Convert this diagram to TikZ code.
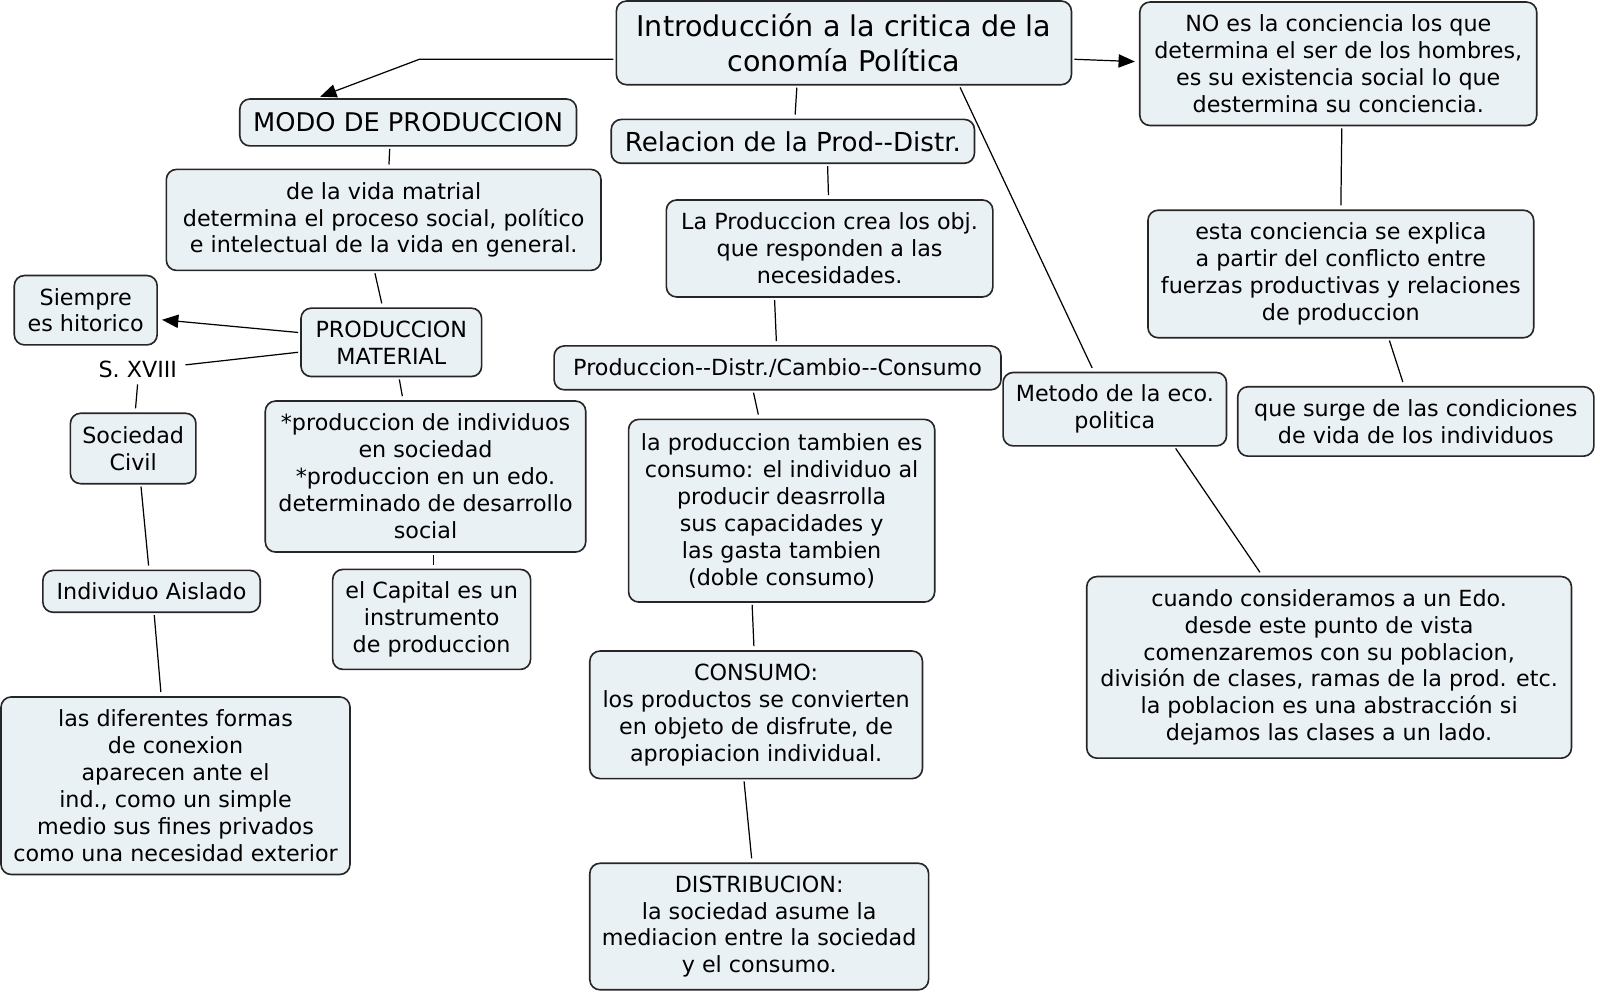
\documentclass[tikz,border=0pt]{standalone}
\usepackage{fontspec}
\setmainfont{DejaVu Sans}
\usepackage{tikz}
\usetikzlibrary{arrows.meta, positioning, calc}
\definecolor{conceptFill}{HTML}{EAF1F5}
\definecolor{conceptLine}{HTML}{262626}
\newcommand{\dblhyph}{-\kern0pt-}
\tikzset{
  concept/.style={draw=conceptLine, fill=conceptFill, line width=0.8pt, rounded corners=5pt, align=center, inner sep=2pt, font=\fontsize{10.9}{13.2}\selectfont},
  bigconcept/.style={concept, font=\fontsize{14}{17}\selectfont},
  link/.style={draw=black, line width=0.6pt, shorten <=1pt, shorten >=2pt},
  linkarrow/.style={link, -{Triangle[length=8pt,width=6.5pt]}}
}

\begin{document}
\begin{tikzpicture}[x=0.5pt, y=-0.5pt]
    \useasboundingbox (0,0) rectangle (1568,976);

    % Title and right branch
    \node[bigconcept, minimum width=223pt, minimum height=41pt] (title) at (827,42) {Introducción a la critica de la\\conomía Política};
    \node[concept, minimum width=194.5pt, minimum height=60.5pt] (noes) at (1311.5,62.5) {NO es la conciencia los que\\determina el ser de los hombres,\\es su existencia social lo que\\destermina su conciencia.};
    \node[concept, minimum width=189pt, minimum height=62.5pt] (esta) at (1314,268.5) {esta conciencia se explica\\a partir del conflicto entre\\fuerzas productivas y relaciones\\de produccion};
    \node[concept, minimum width=174.5pt, minimum height=34pt] (surge) at (1387.5,413) {que surge de las condiciones\\de vida de los individuos};
    \node[concept, minimum width=109.5pt, minimum height=36pt] (metodo) at (1092.5,401) {Metodo de la eco.\\politica};
    \node[concept, minimum width=237.5pt, minimum height=89pt] (cuando) at (1302.5,654) {cuando consideramos a un Edo.\\desde este punto de vista\\comenzaremos con su poblacion,\\división de clases, ramas de la prod. etc.\\la poblacion es una abstracción si\\dejamos las clases a un lado.};

    % Left branch
    \node[bigconcept, font=\fontsize{12.6}{15}\selectfont, minimum width=165pt, minimum height=23pt] (modo) at (400,120) {MODO DE PRODUCCION};
    \node[concept, minimum width=213pt, minimum height=49.5pt] (vida) at (376,215.5) {de la vida matrial\\determina el proceso social, político\\e intelectual de la vida en general.};
    \node[concept, minimum width=70pt, minimum height=34pt] (siempre) at (84,304) {Siempre\\es hitorico};
    \node[concept, minimum width=88.5pt, minimum height=33.5pt] (prodmat) at (383.5,335.5) {PRODUCCION\\MATERIAL};
    \node[font=\fontsize{10.9}{13.2}\selectfont, inner sep=2pt] (sxviii) at (135,362) {S. XVIII};
    \node[concept, minimum width=61.5pt, minimum height=34.5pt] (civil) at (130.5,439.5) {Sociedad\\Civil};
    \node[concept, minimum width=106.5pt, minimum height=20.5pt] (aislado) at (148.5,579.5) {Individuo Aislado};
    \node[concept, minimum width=171pt, minimum height=87pt] (formas) at (172,770) {las diferentes formas\\de conexion\\aparecen ante el\\ind., como un simple\\medio sus fines privados\\como una necesidad exterior};
    \node[concept, minimum width=157pt, minimum height=74pt] (indiv) at (417,467) {*produccion de individuos\\en sociedad\\*produccion en un edo.\\determinado de desarrollo\\social};
    \node[concept, minimum width=97pt, minimum height=49pt] (capital) at (423,607) {el Capital es un\\instrumento\\de produccion};

    % Middle branch
    \node[bigconcept, font=\fontsize{12.8}{15}\selectfont, minimum width=178pt, minimum height=21.5pt] (relacion) at (777,138.5) {Relacion de la Prod\dblhyph Distr.};
    \node[concept, minimum width=160pt, minimum height=47.5pt] (crea) at (813,243.5) {La Produccion crea los obj.\\que responden a las\\necesidades.};
    \node[concept, minimum width=219pt, minimum height=21.5pt] (pdc) at (762,360.5) {Produccion\dblhyph Distr./Cambio\dblhyph Consumo};
    \node[concept, minimum width=150pt, minimum height=89.5pt] (tambien) at (766,500.5) {la produccion tambien es\\consumo: el individuo al\\producir deasrrolla\\sus capacidades y\\las gasta tambien\\(doble consumo)};
    \node[concept, minimum width=163pt, minimum height=62.5pt] (consumo) at (741,700.5) {CONSUMO:\\los productos se convierten\\en objeto de disfrute, de\\apropiacion individual.};
    \node[concept, minimum width=166pt, minimum height=62pt] (distrib) at (744,908) {DISTRIBUCION:\\la sociedad asume la\\mediacion entre la sociedad\\y el consumo.};

    % Links
    \draw[linkarrow] ([yshift=-8pt]title.west) -- ++(-192,0) -- ([xshift=-45pt]modo.north);
    \draw[linkarrow] ([yshift=-8pt]title.east) -- ([yshift=1pt]noes.west);
    \draw[link] ([xshift=-23pt]title.south) -- ([xshift=1pt]relacion.north);
    \draw[link] ([xshift=56.5pt]title.south) -- ([xshift=-10.25pt]metodo.north);
    \draw[link] ([xshift=1.75pt]noes.south) -- (esta.north);
    \draw[link] ([xshift=23.5pt]esta.south) -- ([xshift=-5.75pt]surge.north);
    \draw[link] ([xshift=29.25pt]metodo.south) -- ([xshift=-32.75pt]cuando.north);

    \draw[link] ([xshift=-9pt]modo.south) -- ([xshift=2.5pt]vida.north);
    \draw[link] ([xshift=-4.5pt]vida.south) -- ([xshift=-4.25pt]prodmat.north);
    \draw[linkarrow] ([yshift=4.75pt]prodmat.west) -- ([yshift=-4.5pt]siempre.east);
    \draw[link] ([yshift=-4.75pt]prodmat.west) -- ([yshift=2pt]sxviii.east);
    \draw[link] (sxviii.south) -- ([xshift=1pt]civil.north);
    \draw[link] ([xshift=3.75pt]civil.south) -- ([xshift=-1.25pt]aislado.north);
    \draw[link] ([xshift=1.25pt]aislado.south) -- ([xshift=-7pt]formas.north);
    \draw[link] ([xshift=3.75pt]prodmat.south) -- ([xshift=-11pt]indiv.north);
    \draw[link] ([xshift=4pt]indiv.south) -- ([xshift=1pt]capital.north);

    \draw[link] ([xshift=17pt]relacion.south) -- ([xshift=-0.5pt]crea.north);
    \draw[link] ([xshift=-27pt]crea.south) -- ([xshift=-0.5pt]pdc.north);
    \draw[link] ([xshift=-12pt]pdc.south) -- ([xshift=-11pt]tambien.north);
    \draw[link] ([xshift=-14.5pt]tambien.south) -- ([xshift=-1pt]consumo.north);
    \draw[link] ([xshift=-6pt]consumo.south) -- ([xshift=-3.5pt]distrib.north);
\end{tikzpicture}
\end{document}
